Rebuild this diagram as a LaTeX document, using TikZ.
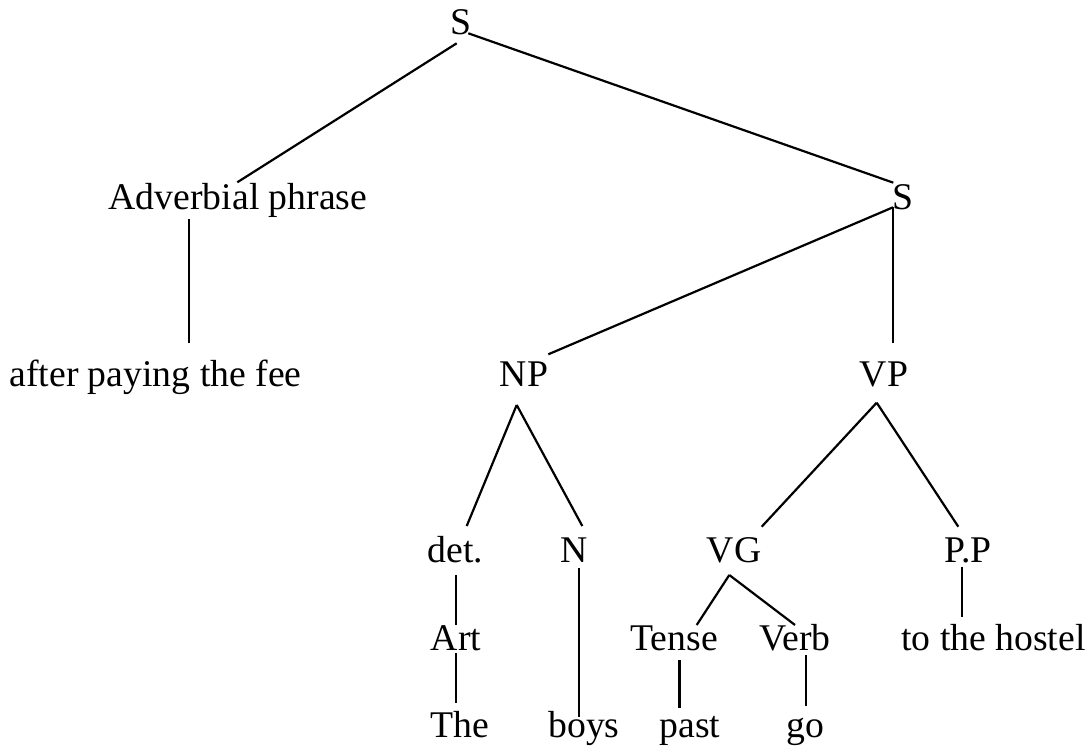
\documentclass[tikz,border=0pt]{standalone}
\usepackage{fontspec}
\setmainfont{Liberation Serif}
\usepackage{tikz}

\begin{document}
\begin{tikzpicture}[x=1pt,y=-1pt,
  word/.style={font=\fontsize{37.7}{45}\selectfont,inner sep=0pt,anchor=base},
  branch/.style={line width=2.2pt}]

 \useasboundingbox (0,0) rectangle (1091,751);

% Top of the tree
 \node[word] (s1) at (460.5,35) {S};
 \node[word] (adv) at (238,210) {Adverbial phrase};
 \node[word] (s2) at (903,210) {S};
 \node[word] (fee) at (155.5,386) {after paying the fee};
 \node[word] (np) at (524,386) {NP};
 \node[word] (vp) at (884,386) {VP};

% Phrase level
 \node[word] (det) at (455.5,562) {det.};
 \node[word] (n) at (574,562) {N};
 \node[word] (vg) at (734,562) {VG};
 \node[word] (pp) at (968,562) {P.P};

% Word level
 \node[word] (art) at (456,650) {Art};
 \node[word] (tense) at (674,650) {Tense};
 \node[word] (verb) at (795,650) {Verb};
 \node[word] (hostel) at (993.5,650) {to the hostel};
 \node[word] (the) at (460,737) {The};
 \node[word] (boys) at (584,737) {boys};
 \node[word] (past) at (690,737) {past};
 \node[word] (go) at (805.5,737) {go};

 \draw[branch] ([shift={(-3.8,8.3)}]s1.base) -- ([shift={(-0.7,-27.7)}]adv.base);
 \draw[branch] ([shift={(7.8,-1.7)}]s1.base) -- ([shift={(-9.7,-27.3)}]s2.base);
 \draw[branch] ([shift={(-49,9.3)}]adv.base) -- ([shift={(33.5,-43)}]fee.base);

% Right-hand S splits into NP and VP
 \draw[branch] ([shift={(-10,-2.7)}]s2.base) -- ([shift={(24.3,-31.7)}]np.base);
 \draw[branch] ([shift={(-10,-2.7)}]s2.base) -- ([shift={(9,-43.3)}]vp.base);

 \draw[branch] ([shift={(-7.3,19)}]np.base) -- ([shift={(11.2,-36)}]det.base);
 \draw[branch] ([shift={(-7.3,19)}]np.base) -- ([shift={(8.3,-36)}]n.base);
 \draw[branch] ([shift={(-7.3,16.7)}]vp.base) -- ([shift={(27.7,-35.3)}]vg.base);
 \draw[branch] ([shift={(-7.3,16.7)}]vp.base) -- ([shift={(-9.7,-35.3)}]pp.base);

 \draw[branch] ([shift={(0.5,13)}]det.base) -- ([shift={(0,-25)}]art.base);
 \draw[branch] ([shift={(0,3)}]art.base) -- ([shift={(-4,-34)}]the.base);
 \draw[branch] ([shift={(5,6)}]n.base) -- ([shift={(-5,-20)}]boys.base);
 \draw[branch] ([shift={(-4.7,13)}]vg.base) -- ([shift={(22.7,-25)}]tense.base);
 \draw[branch] ([shift={(-4.7,13)}]vg.base) -- ([shift={(0,-25)}]verb.base);
 \draw[branch] ([shift={(5.5,10)}]tense.base) -- ([shift={(-10.5,-29)}]past.base);
 \draw[branch] ([shift={(10.7,5)}]verb.base) -- ([shift={(0.2,-31)}]go.base);
 \draw[branch] ([shift={(-6.3,4.7)}]pp.base) -- ([shift={(-31.8,-33)}]hostel.base);

\end{tikzpicture}
\end{document}
